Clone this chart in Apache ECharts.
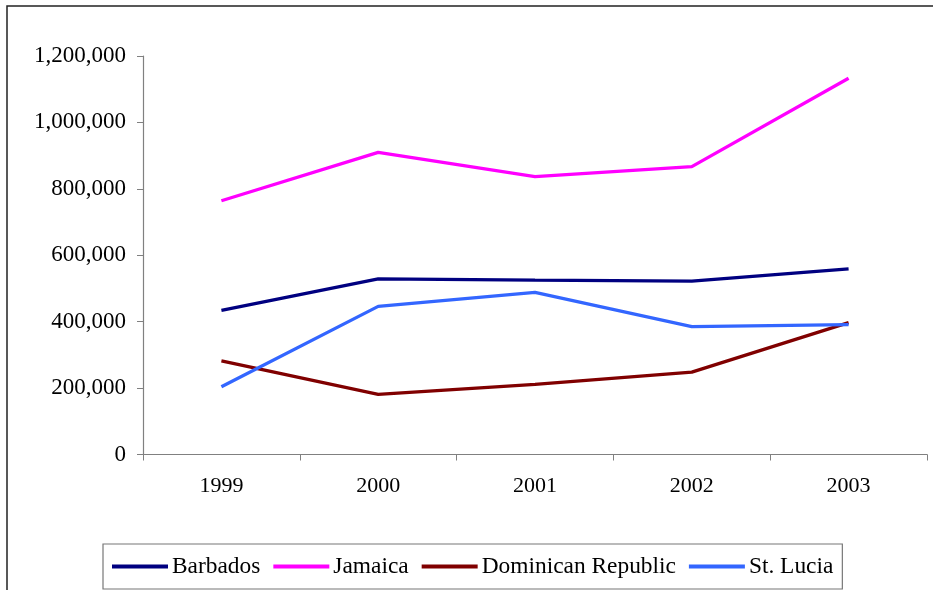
<!DOCTYPE html>
<html>
<head>
<meta charset="utf-8">
<script src="https://cdn.jsdelivr.net/npm/echarts@6/dist/echarts.min.js"></script>
<style>html,body{margin:0;padding:0;background:#fff;}#chart{width:933px;height:590px;}</style>
</head>
<body>
<div id="chart"></div>
<script>
var categories = ['1999', '2000', '2001', '2002', '2003'];
var barbados = [434000, 529000, 525000, 522000, 559000];
var jamaica = [764000, 910000, 837000, 867000, 1133000];
var dominican = [282000, 181000, 211000, 248000, 397000];
var stLucia = [204000, 446000, 488000, 385000, 391000];
var seriesNames = ['Barbados', 'Jamaica', 'Dominican Republic', 'St. Lucia'];
var seriesColors = ['#000080', '#FF00FF', '#800000', '#3366FF'];
var seriesData = [barbados, jamaica, dominican, stLucia];

var font = 'Liberation Serif, Times New Roman, serif';
var chart = echarts.init(document.getElementById('chart'));
chart.setOption({
  animation: false,
  backgroundColor: '#fff',
  graphic: [{
    type: 'rect',
    shape: { x: 7, y: 6, width: 1000, height: 1000 },
    style: { fill: 'none', stroke: '#222', lineWidth: 1.5 },
    silent: true
  }],
  grid: { left: 143, right: 6, top: 56, bottom: 135.5, containLabel: false },
  xAxis: {
    type: 'category',
    data: categories,
    boundaryGap: true,
    axisLine: { lineStyle: { color: '#808080', width: 1.2 } },
    axisTick: { show: true, length: 6, lineStyle: { color: '#808080' } },
    axisLabel: { color: '#000', fontFamily: font, fontSize: 22, margin: 21 },
    splitLine: { show: false }
  },
  yAxis: {
    type: 'value',
    min: 0, max: 1200000, interval: 200000,
    axisLine: { show: true, lineStyle: { color: '#808080', width: 1.2 } },
    axisTick: { show: true, length: 6, lineStyle: { color: '#808080' } },
    axisLabel: {
      color: '#000', fontFamily: font, fontSize: 23, margin: 17,
      formatter: function (v) { return v.toLocaleString('en-US'); }
    },
    splitLine: { show: false }
  },
  legend: {
    bottom: 1,
    left: 103,
    padding: [11, 9, 11, 9],
    borderColor: '#777',
    borderWidth: 1.2,
    itemGap: 13,
    itemWidth: 56,
    itemHeight: 4,
    icon: 'rect',
    textStyle: { color: '#000', fontFamily: font, fontSize: 23.4, padding: [0, 0, 0, -1] },
    data: seriesNames
  },
  series: seriesNames.map(function (n, i) {
    return {
      name: n,
      type: 'line',
      data: seriesData[i],
      symbol: 'none',
      lineStyle: { color: seriesColors[i], width: 3.3 },
      itemStyle: { color: seriesColors[i] }
    };
  })
});
</script>
</body>
</html>
